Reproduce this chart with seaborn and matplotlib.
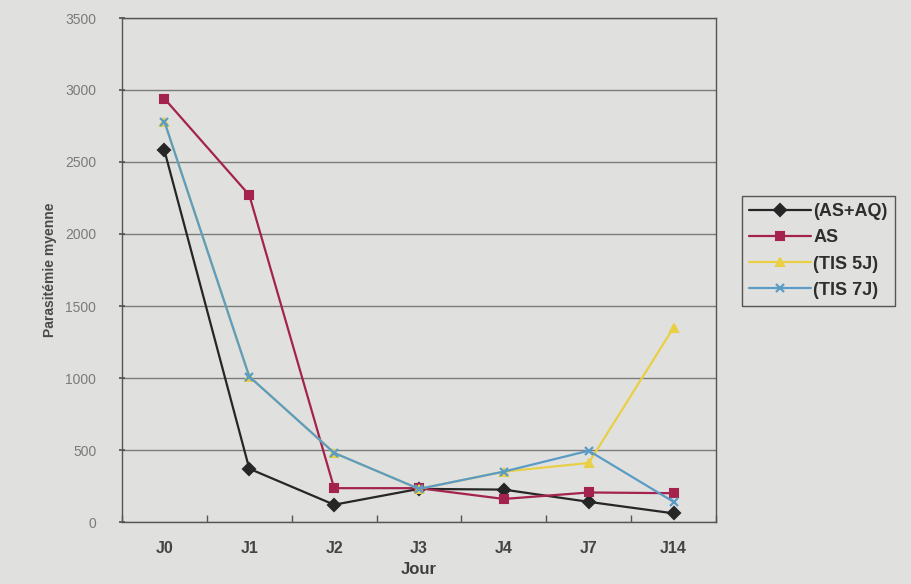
import matplotlib
matplotlib.use("Agg")
import matplotlib.pyplot as plt
import matplotlib.colors as mcolors
import seaborn as sns
import pandas as pd
import numpy as np

# Mean parasitaemia by day for each treatment group
jours = ["J0", "J1", "J2", "J3", "J4", "J7", "J14"]
as_aq = [2580, 370, 120, 230, 225, 140, 60]
as_seul = [2940, 2270, 235, 235, 160, 205, 200]
tis_5j = [2780, 1010, 480, 230, 350, 410, 1350]
tis_7j = [2780, 1010, 480, 230, 350, 495, 140]

series_names = ["(AS+AQ)", "AS", "(TIS 5J)", "(TIS 7J)"]
series_values = [as_aq, as_seul, tis_5j, tis_7j]
colors = ["#262626", "#a3234e", "#e9cf45", "#5b9cc6"]
markers = ["D", "s", "^", "X"]

rows = []
for name, vals in zip(series_names, series_values):
    for i, (j, v) in enumerate(zip(jours, vals)):
        rows.append({"pos": i, "jour": j, "valeur": v, "groupe": name})
df = pd.DataFrame(rows)

sns.set_theme(style="white")
plt.rcParams["font.family"] = ["Liberation Sans", "DejaVu Sans"]

bg = "#e0e1de"
fig = plt.figure(figsize=(9.12, 5.84), dpi=100, facecolor=bg)
ax = fig.add_axes([122 / 912, 1 - 522 / 584, (716 - 122) / 912, (522 - 18) / 584])
ax.set_facecolor(bg)

sns.lineplot(
    data=df, x="pos", y="valeur", hue="groupe", style="groupe",
    hue_order=series_names, style_order=series_names,
    palette=dict(zip(series_names, colors)),
    markers=dict(zip(series_names, markers)),
    dashes=False, sort=False, linewidth=1.6, markersize=6,
    markeredgewidth=1.5, ax=ax, legend=True,
)

blue = mcolors.to_rgba(colors[3])


def restyle(line):
    # solid markers in the line colour; the TIS 7J series uses a thin cross
    c = line.get_color()
    line.set_markeredgecolor(c)
    line.set_markerfacecolor(c)
    if np.allclose(mcolors.to_rgba(c), blue):
        line.set_marker("x")
        line.set_markersize(6)
        line.set_markeredgewidth(1.6)


for ln in ax.lines:
    restyle(ln)

ax.set_xlim(-0.5, len(jours) - 0.5)
ax.set_ylim(0, 3500)
ax.set_yticks(np.arange(0, 3501, 500))
ax.yaxis.grid(True, color="#7a7a7a", linewidth=1.0)
ax.set_axisbelow(True)

ax.set_xticks(range(len(jours)))
ax.set_xticklabels(jours)
ax.set_xticks(np.arange(-0.5, len(jours), 1.0), minor=True)
ax.tick_params(axis="x", which="major", length=0, pad=14, labelsize=11.5,
               labelcolor="#444444")
ax.tick_params(axis="x", which="minor", length=5, direction="in",
               color="#555555", bottom=True)
ax.tick_params(axis="y", which="major", length=5, direction="inout",
               color="#555555", left=True, labelsize=10, labelcolor="#7a7a7a",
               pad=16)
for t in ax.get_xticklabels():
    t.set_fontweight("bold")

for side in ["left", "right", "top", "bottom"]:
    ax.spines[side].set_color("#555555")
    ax.spines[side].set_linewidth(1.0)

ax.set_xlabel("Jour", fontsize=12, fontweight="bold", color="#3e3e3e",
              labelpad=4)
ax.set_ylabel("Parasitémie myenne", fontsize=10, color="#4a4a4a", labelpad=6,
              fontweight="bold")

handles, labels = ax.get_legend_handles_labels()
for h in handles:
    restyle(h)
leg = ax.legend(handles, labels, loc="center left",
                bbox_to_anchor=((733 - 122) / (716 - 122), (522 - 251) / 504),
                frameon=True, fancybox=False, fontsize=13, handlelength=3.4,
                borderpad=0.4, labelspacing=0.5, handletextpad=0.15,
                facecolor=bg, edgecolor="#555555", framealpha=1.0)
for t in leg.get_texts():
    t.set_color("#2e2e2e")
    t.set_fontweight("bold")

fig.savefig("out.png", dpi=100, facecolor=bg)
